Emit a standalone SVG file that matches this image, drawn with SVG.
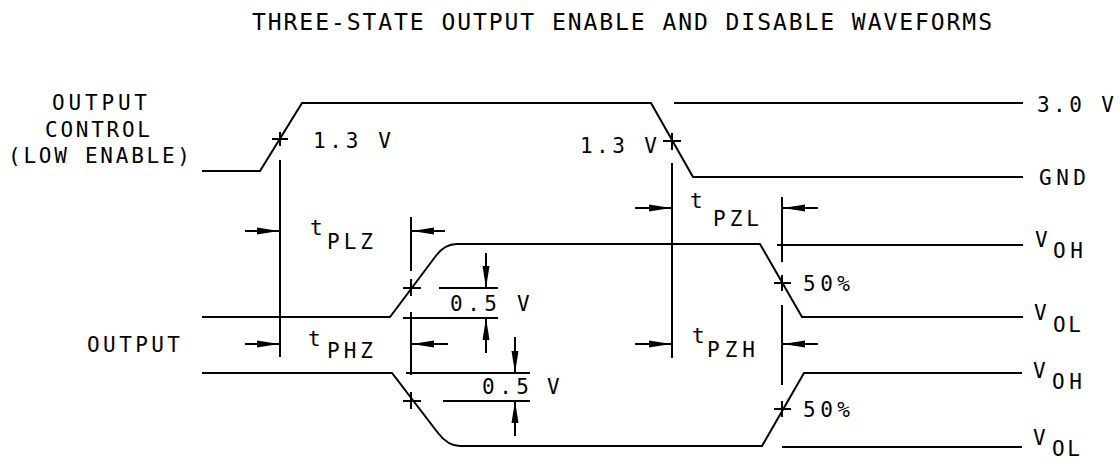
<svg xmlns="http://www.w3.org/2000/svg" width="1120" height="464" viewBox="0 0 1120 464">
<style>
.w{fill:none;stroke:#000;stroke-width:2}
.a{fill:none;stroke:#000;stroke-width:2;marker-end:url(#ah)}
text{font-family:"DejaVu Sans Mono","Liberation Mono",monospace;font-size:21px;fill:#000}
.tt{font-size:23px}
</style>
<defs>
<marker id="ah" markerWidth="24" markerHeight="10" refX="22" refY="5" orient="auto" markerUnits="userSpaceOnUse">
<path d="M0,1.5 L22,5 L0,8.5 Z" fill="#000"/>
</marker>
</defs>
<rect width="1120" height="464" fill="#fff"/>
<text class="tt" x="252" y="30" textLength="740" lengthAdjust="spacing">THREE-STATE OUTPUT ENABLE AND DISABLE WAVEFORMS</text>

<g id="labels-left">
<text x="52" y="110" textLength="95" lengthAdjust="spacing">OUTPUT</text>
<text x="45" y="137" textLength="105" lengthAdjust="spacing">CONTROL</text>
<text x="8" y="163" textLength="182" lengthAdjust="spacing">(LOW ENABLE)</text>
<text x="87" y="352" textLength="93" lengthAdjust="spacing">OUTPUT</text>
</g>

<g id="waveforms">
<path class="w" d="M202,171 L260,171 L302,103 L651,103 L693,177 L1023,177"/>
<path class="w" d="M674,103 L1023,103"/>
<path class="w" d="M202,317 L390,317 L435,257 Q444,244 457,244 L760,244 L802,317 L1023,317"/>
<path class="w" d="M777,245 L1023,245"/>
<path class="w" d="M202,373 L392,373 L438,433 Q448,446 460,446 L762,446 L804,373 L1022,373"/>
<path class="w" d="M782,447 L1022,447"/>
</g>

<g id="crosses">
<path class="w" d="M272,139 H288 M280,132 V146"/>
<path class="w" d="M663,141 H681 M672,133 V150"/>
<path class="w" d="M403,288 H421 M411,279 V296"/>
<path class="w" d="M403,401 H421 M411,392 V409"/>
<path class="w" d="M774,283 H791 M782,275 V291"/>
<path class="w" d="M774,409 H791 M782,401 V417"/>
</g>

<g id="connectors">
<path class="w" d="M280,160 V357"/>
<path class="w" d="M672,163 V358"/>
<path class="w" d="M411,217 V271 M411,312 V375"/>
<path class="w" d="M782,197 V262 M782,305 V385"/>
<path class="w" d="M439,288 H498 M403,318 H498"/>
<path class="w" d="M406,373 H530 M443,401 H530"/>
<path class="a" d="M245,231 H279"/>
<path class="a" d="M445,231 H412"/>
<path class="a" d="M245,344 H279"/>
<path class="a" d="M448,344 H412"/>
<path class="a" d="M635,208 H671"/>
<path class="a" d="M818,208 H783"/>
<path class="a" d="M635,344 H671"/>
<path class="a" d="M818,344 H783"/>
<path class="a" d="M486,253 V288"/>
<path class="a" d="M486,353 V318"/>
<path class="a" d="M515,337 V373"/>
<path class="a" d="M515,436 V401"/>
</g>

<g id="labels-levels">
<text x="1037" y="112" textLength="77" lengthAdjust="spacing">3.0 V</text>
<text x="1039" y="185" textLength="47" lengthAdjust="spacing">GND</text>
<text x="1035" y="247">V</text><text x="1053" y="258" textLength="30" lengthAdjust="spacing">OH</text>
<text x="1034" y="320">V</text><text x="1053" y="332" textLength="28" lengthAdjust="spacing">OL</text>
<text x="1033" y="378">V</text><text x="1052" y="389" textLength="30" lengthAdjust="spacing">OH</text>
<text x="1033" y="445">V</text><text x="1052" y="456" textLength="28" lengthAdjust="spacing">OL</text>
</g>

<g id="labels-timing">
<text x="313" y="148" textLength="78" lengthAdjust="spacing">1.3 V</text>
<text x="580" y="153" textLength="77" lengthAdjust="spacing">1.3 V</text>
<text x="310" y="235">t</text><text x="327" y="249" textLength="46" lengthAdjust="spacing">PLZ</text>
<text x="308" y="346">t</text><text x="327" y="358" textLength="46" lengthAdjust="spacing">PHZ</text>
<text x="690" y="208">t</text><text x="713" y="226" textLength="46" lengthAdjust="spacing">PZL</text>
<text x="692" y="343">t</text><text x="707" y="357" textLength="48" lengthAdjust="spacing">PZH</text>
<text x="450" y="311" textLength="47" lengthAdjust="spacing">0.5</text><text x="517" y="311">V</text>
<text x="482" y="394" textLength="47" lengthAdjust="spacing">0.5</text><text x="547" y="394">V</text>
<text x="803" y="291" textLength="47" lengthAdjust="spacing">50%</text>
<text x="803" y="417" textLength="47" lengthAdjust="spacing">50%</text>
</g>
</svg>
